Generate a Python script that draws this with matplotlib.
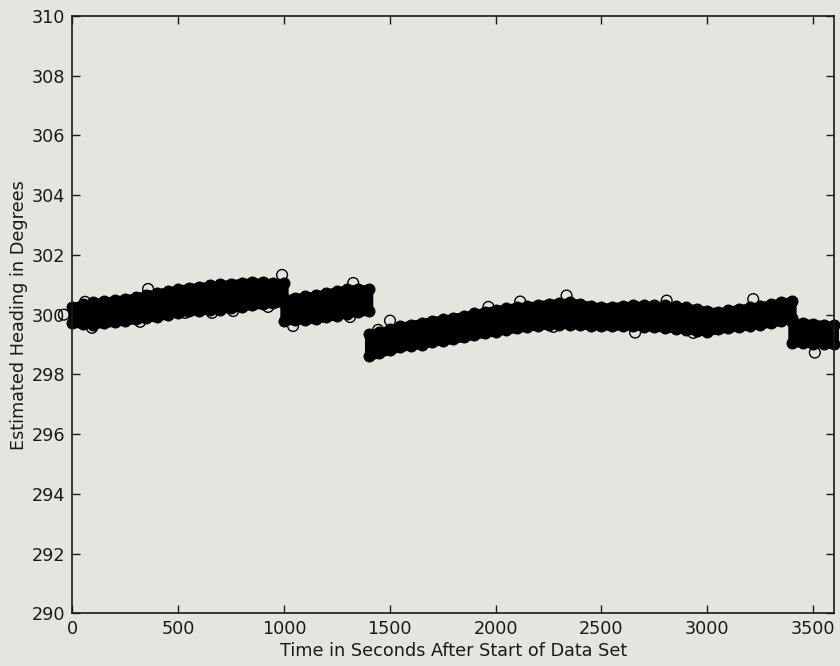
import matplotlib
matplotlib.use("Agg")
import matplotlib.pyplot as plt

# ---- data ----
# Segment 1
seg1_time = [0, 50, 100, 150, 200, 250, 300, 350, 400, 450, 500, 550, 600, 650,
             700, 750, 800, 850, 900, 950, 1000]
seg1_upper = [300.27, 300.35, 300.42, 300.45, 300.49, 300.53, 300.59, 300.67, 300.73,
              300.79, 300.85, 300.90, 300.94, 300.98, 301.01, 301.04, 301.07, 301.09,
              301.09, 301.07, 301.05]
seg1_lower = [299.71, 299.69, 299.67, 299.71, 299.75, 299.79, 299.84, 299.89, 299.93,
              300.00, 300.06, 300.11, 300.13, 300.15, 300.17, 300.21, 300.26, 300.32,
              300.35, 300.38, 300.40]
# Segment 2
seg2_time = [1000, 1050, 1100, 1150, 1200, 1250, 1300, 1350, 1400]
seg2_upper = [300.53, 300.57, 300.61, 300.65, 300.72, 300.80, 300.86, 300.87, 300.86]
seg2_lower = [299.79, 299.81, 299.83, 299.85, 299.91, 299.97, 300.03, 300.08, 300.12]
# Segment 3
seg3_time = [1400, 1450, 1500, 1550, 1600, 1650, 1700, 1750, 1800, 1850, 1900, 1950,
             2000, 2050, 2100, 2150, 2200, 2250, 2300, 2350, 2400, 2450, 2500, 2550,
             2600, 2650, 2700, 2750, 2800, 2850, 2900, 2950, 3000, 3050, 3100, 3150,
             3200, 3250, 3300, 3350, 3400]
seg3_upper = [299.35, 299.43, 299.51, 299.61, 299.67, 299.73, 299.80, 299.85, 299.90,
              299.97, 300.04, 300.10, 300.17, 300.22, 300.26, 300.29, 300.33, 300.37,
              300.40, 300.42, 300.37, 300.30, 300.25, 300.27, 300.30, 300.31, 300.32,
              300.31, 300.31, 300.28, 300.24, 300.20, 300.13, 300.09, 300.15, 300.20,
              300.25, 300.30, 300.36, 300.41, 300.47]
seg3_lower = [298.60, 298.71, 298.81, 298.91, 298.96, 299.00, 299.08, 299.13, 299.17,
              299.25, 299.32, 299.38, 299.43, 299.49, 299.54, 299.59, 299.63, 299.65,
              299.67, 299.67, 299.65, 299.63, 299.62, 299.62, 299.62, 299.62, 299.60,
              299.58, 299.56, 299.53, 299.49, 299.45, 299.43, 299.51, 299.55, 299.59,
              299.62, 299.67, 299.72, 299.78, 299.88]
# Segment 4
seg4_time = [3400, 3450, 3500, 3550, 3600]
seg4_upper = [299.75, 299.73, 299.70, 299.67, 299.64]
seg4_lower = [299.06, 299.05, 299.03, 299.02, 299.01]

# isolated samples visible outside the dense band
outlier_time = [-40, 60, 93, 320, 358, 533, 660, 760, 925, 991, 1043, 1312, 1327,
                1445, 1501, 1966, 2116, 2273, 2335, 2659, 2808, 2934, 3217, 3508]
outlier_heading = [300.0, 300.43, 299.56, 299.76, 300.86, 300.06, 300.06, 300.12,
                   300.26, 301.33, 299.62, 299.92, 301.06, 299.49, 299.80, 300.26,
                   300.44, 299.59, 300.64, 299.40, 300.47, 299.39, 300.52, 298.73]

x_ticks = [0, 500, 1000, 1500, 2000, 2500, 3000, 3500]
y_ticks = [290, 292, 294, 296, 298, 300, 302, 304, 306, 308, 310]

# ---- style ----
bg = "#e5e5e0"
ink = "#1a1a1a"
plt.rcParams["font.family"] = ["DejaVu Sans"]

fig = plt.figure(figsize=(8.4, 6.66), dpi=100, facecolor=bg)
ax = fig.add_axes([0.0861, 0.0791, 0.9071, 0.8969], facecolor=bg)

segments = [
    (seg1_time, seg1_upper, seg1_lower),
    (seg2_time, seg2_upper, seg2_lower),
    (seg3_time, seg3_upper, seg3_lower),
    (seg4_time, seg4_upper, seg4_lower),
]
msize = 60
for t, up, lo in segments:
    band = ax.fill_between(t, lo, up, color="black", linewidth=6.0,
                           edgecolor="black", zorder=2, clip_on=False)
    band.set_joinstyle("round")
    band.set_capstyle("round")
    ax.scatter(t, up, s=msize, facecolors="black", edgecolors="black",
               linewidths=0.9, zorder=3, clip_on=False)
    ax.scatter(t, lo, s=msize, facecolors="black", edgecolors="black",
               linewidths=0.9, zorder=3, clip_on=False)

ax.scatter(outlier_time, outlier_heading, s=msize, facecolors="none",
           edgecolors="black", linewidths=1.0, zorder=3, clip_on=False)

ax.set_xlim(0, 3600)
ax.set_ylim(290, 310)
ax.set_xticks(x_ticks)
ax.set_yticks(y_ticks)
ax.tick_params(direction="in", length=5.5, width=1.0, color=ink, labelsize=12.7,
               labelcolor=ink, top=True, right=True, pad=5)
for sp in ax.spines.values():
    sp.set_color(ink)
    sp.set_linewidth(1.2)
    sp.set_zorder(5)

ax.set_xlabel("Time in Seconds After Start of Data Set", fontsize=12.7,
              color=ink, labelpad=3)
ax.set_ylabel("Estimated Heading in Degrees", fontsize=12.7, color=ink,
              labelpad=3)

fig.savefig("out.png", dpi=100, facecolor=bg)
